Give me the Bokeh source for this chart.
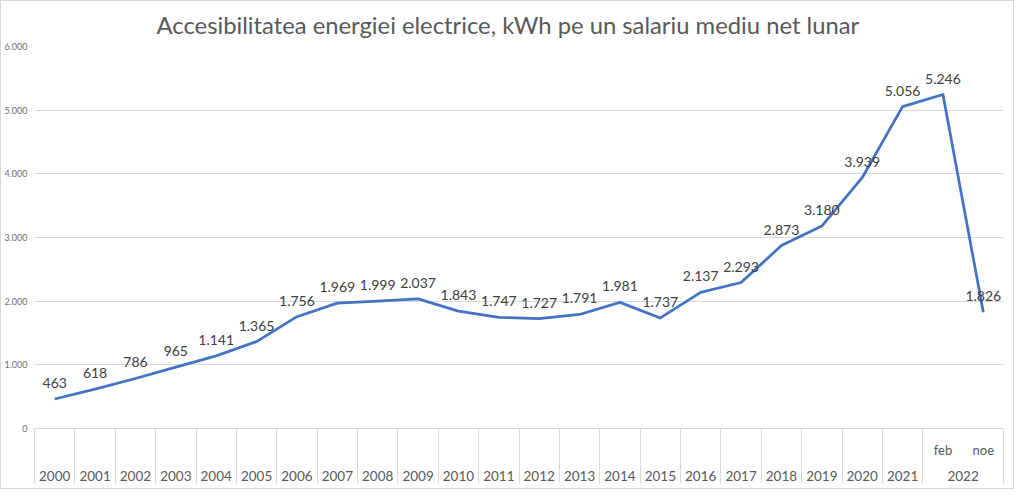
from bokeh.plotting import figure
from bokeh.models import Range1d, LinearAxis, FixedTicker, ColumnDataSource
from bokeh.embed import file_html
from bokeh.resources import INLINE
from bokeh.core.properties import value

title_text = "Accesibilitatea energiei electrice, kWh pe un salariu mediu net lunar"
years = [str(y) for y in range(2000, 2022)] + ["2022", "2022"]
periods = [""] * 22 + ["feb", "noe"]
values = [463, 618, 786, 965, 1141, 1365, 1756, 1969, 1999, 2037, 1843, 1747,
          1727, 1791, 1981, 1737, 2137, 2293, 2873, 3180, 3939, 5056, 5246, 1826]
y_ticks = [0, 1000, 2000, 3000, 4000, 5000, 6000]
y_tick_labels = ["0", "1.000", "2.000", "3.000", "4.000", "5.000", "6.000"]

FONT = "Lato"
GRID = "#d9d9d9"
TXT = "#595959"

n = len(years)
xpos = [i + 0.5 for i in range(n)]
labels = [f"{v:,}".replace(",", ".") for v in values]
src = ColumnDataSource(dict(x=xpos, y=values, label=labels))

def key(v):
    return int(v) if float(v).is_integer() else v

# group centres and group boundaries on the category axis
groups = []
for i, yv in enumerate(years):
    if not groups or groups[-1][0] != yv:
        groups.append([yv, i, i + 1])
    else:
        groups[-1][2] = i + 1
group_centres = [key((a + b) / 2) for _, a, b in groups]
bounds = [a for _, a, _ in groups] + [n]

p = figure(width=1014, height=489,
           x_range=Range1d(0, n), y_range=Range1d(0, 6000),
           x_axis_type=None,
           output_backend="svg", toolbar_location=None,
           min_border_left=30, min_border_right=12, min_border_top=44, min_border_bottom=62,
           title=title_text)
p.styles = {"border": "1px solid #d9d9d9"}
p.outline_line_color = None

p.title.align = "left"
p.title.offset = 122
p.title.standoff = 15
p.title.text_font = FONT
p.title.text_font_size = "23.8px"
p.title.text_font_style = "normal"
p.title.text_color = TXT

p.ygrid.grid_line_color = GRID
p.ygrid.ticker = FixedTicker(ticks=y_ticks)

ya = p.yaxis[0]
ya.ticker = FixedTicker(ticks=y_ticks, minor_ticks=[])
ya.major_label_overrides = dict(zip(y_ticks, y_tick_labels))
ya.axis_line_color = None
ya.major_tick_line_color = None
ya.minor_tick_line_color = None
ya.major_tick_out = 0
ya.major_tick_in = 0
ya.major_label_standoff = 7
ya.major_label_text_font = FONT
ya.major_label_text_font_size = "9px"
ya.major_label_text_color = "#6f6f6f"

# row 1: sub-periods (feb / noe)
ax_sub = LinearAxis(ticker=FixedTicker(ticks=xpos, minor_ticks=[]),
                    major_label_overrides={x: s for x, s in zip(xpos, periods)},
                    axis_line_color=GRID, major_tick_line_color=None, minor_tick_line_color=None,
                    major_tick_out=0, major_tick_in=0,
                    major_label_standoff=13, major_label_text_font=FONT,
                    major_label_text_font_size="13px", major_label_text_color=TXT)
# row 2: years
ax_year = LinearAxis(ticker=FixedTicker(ticks=group_centres, minor_ticks=[]),
                     major_label_overrides={c: g[0] for c, g in zip(group_centres, groups)},
                     axis_line_color=None, major_tick_line_color=None, minor_tick_line_color=None,
                     major_tick_out=0, major_tick_in=0,
                     major_label_standoff=10, major_label_text_font=FONT,
                     major_label_text_font_size="13.5px", major_label_text_color=TXT)
# separators between categories
ax_sep = LinearAxis(ticker=FixedTicker(ticks=bounds, minor_ticks=[]),
                    axis_line_color=None, major_tick_line_color=GRID,
                    major_tick_in=55, major_tick_out=0,
                    major_label_overrides={b: "" for b in bounds},
                    major_label_text_font_size="1px", major_label_standoff=0)
p.add_layout(ax_sub, "below")
p.add_layout(ax_year, "below")
p.add_layout(ax_sep, "below")

p.line("x", "y", source=src, line_color="#4472C4", line_width=2.75, line_join="round")
p.text("x", "y", text="label", source=src, y_offset=-16,
       text_align="center", text_baseline="middle",
       text_font=value(FONT), text_font_size="14px", text_color="#404040")

open("out.html", "w").write(file_html(p, INLINE))
